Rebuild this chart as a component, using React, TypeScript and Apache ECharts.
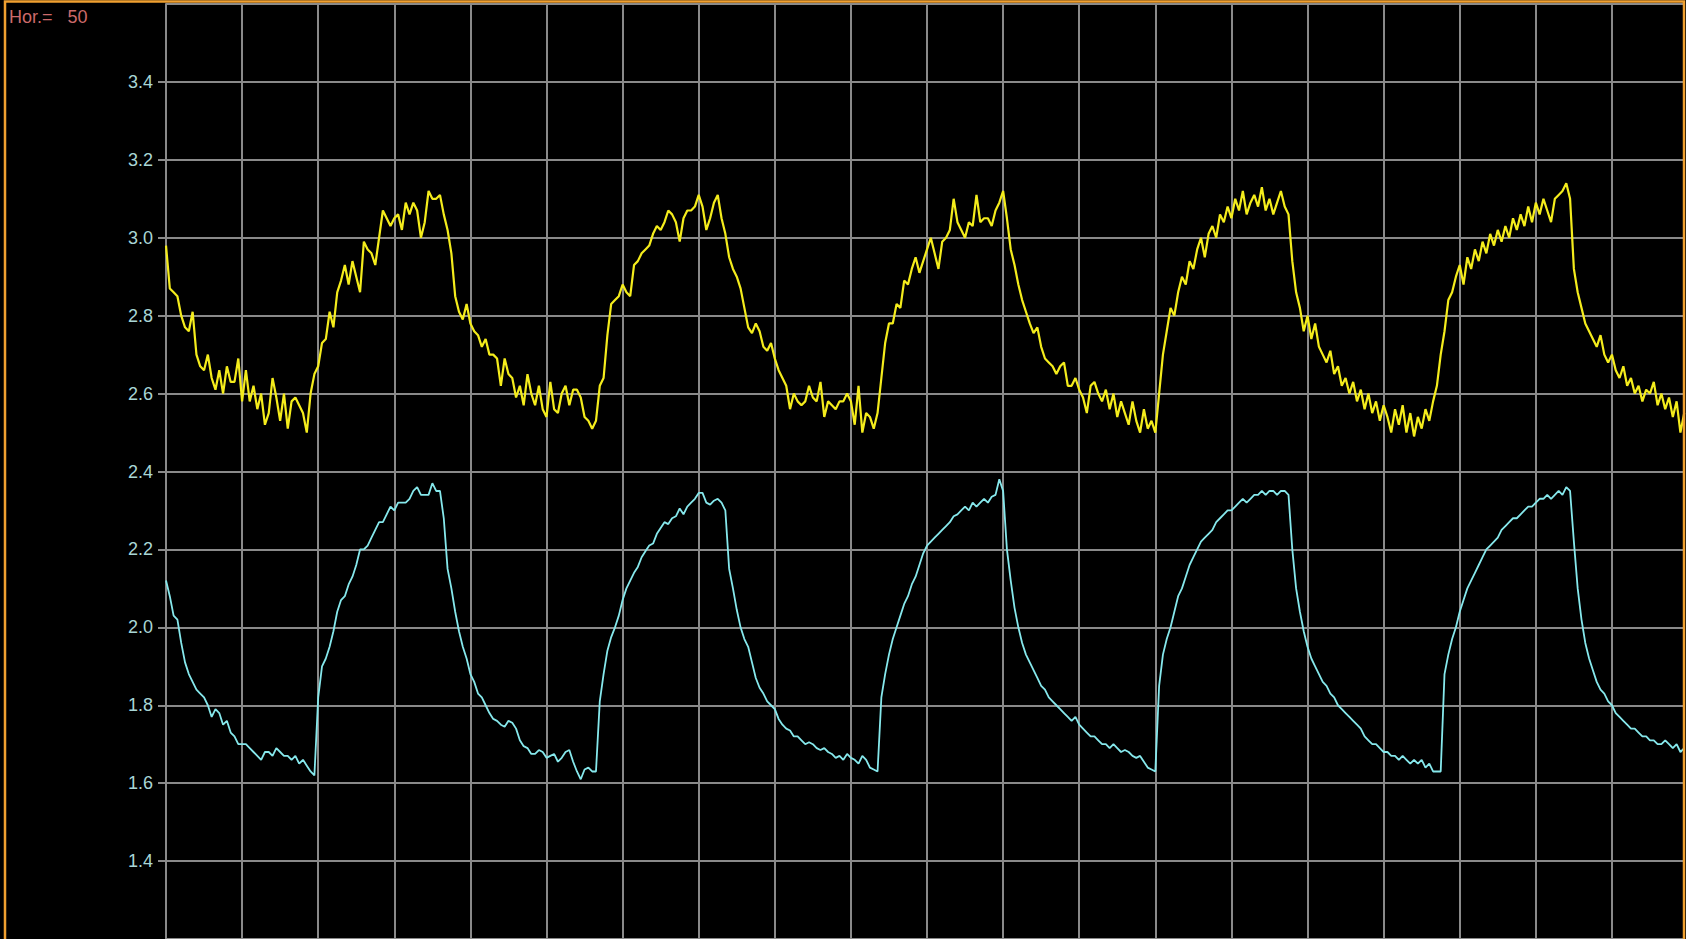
import React, { useEffect, useRef } from "react";
import * as echarts from "echarts";

// sample spacing along the horizontal axis (grid divisions)
const STEP = 0.05;

const yellowTrace: number[] = [
  2.98, 2.87, 2.86, 2.85, 2.80, 2.77, 2.76, 2.81, 2.70, 2.67,
  2.66, 2.70, 2.64, 2.61, 2.66, 2.60, 2.67, 2.63, 2.63, 2.69,
  2.58, 2.66, 2.58, 2.62, 2.56, 2.60, 2.52, 2.55, 2.64, 2.59,
  2.53, 2.60, 2.51, 2.58, 2.59, 2.57, 2.55, 2.50, 2.60, 2.65,
  2.67, 2.73, 2.74, 2.81, 2.77, 2.86, 2.89, 2.93, 2.88, 2.94,
  2.90, 2.86, 2.99, 2.97, 2.96, 2.93, 3.00, 3.07, 3.05, 3.03,
  3.05, 3.06, 3.02, 3.09, 3.06, 3.09, 3.07, 3.00, 3.04, 3.12,
  3.10, 3.10, 3.11, 3.06, 3.02, 2.96, 2.85, 2.81, 2.79, 2.83,
  2.78, 2.76, 2.75, 2.72, 2.74, 2.70, 2.70, 2.69, 2.62, 2.69,
  2.65, 2.64, 2.59, 2.62, 2.57, 2.65, 2.60, 2.57, 2.62, 2.56,
  2.54, 2.63, 2.56, 2.55, 2.60, 2.62, 2.57, 2.61, 2.61, 2.59,
  2.54, 2.53, 2.51, 2.53, 2.62, 2.64, 2.75, 2.83, 2.84, 2.85,
  2.88, 2.86, 2.85, 2.93, 2.94, 2.96, 2.97, 2.98, 3.01, 3.03,
  3.02, 3.04, 3.07, 3.06, 3.04, 2.99, 3.05, 3.07, 3.07, 3.08,
  3.11, 3.08, 3.02, 3.05, 3.09, 3.11, 3.05, 3.01, 2.95, 2.92,
  2.90, 2.87, 2.82, 2.77, 2.755, 2.78, 2.76, 2.72, 2.71, 2.73,
  2.69, 2.66, 2.64, 2.62, 2.56, 2.60, 2.58, 2.57, 2.58, 2.62,
  2.59, 2.58, 2.63, 2.54, 2.58, 2.57, 2.56, 2.58, 2.58, 2.60,
  2.58, 2.52, 2.62, 2.50, 2.55, 2.54, 2.51, 2.55, 2.64, 2.73,
  2.78, 2.78, 2.83, 2.82, 2.89, 2.88, 2.92, 2.95, 2.91, 2.94,
  2.97, 3.00, 2.96, 2.92, 2.99, 3.00, 3.02, 3.10, 3.04, 3.02,
  3.00, 3.04, 3.03, 3.11, 3.04, 3.05, 3.05, 3.03, 3.07, 3.09,
  3.12, 3.05, 2.97, 2.93, 2.88, 2.84, 2.81, 2.78, 2.755, 2.77,
  2.72, 2.69, 2.68, 2.67, 2.65, 2.67, 2.68, 2.62, 2.62, 2.64,
  2.61, 2.59, 2.55, 2.62, 2.63, 2.60, 2.58, 2.61, 2.56, 2.60,
  2.54, 2.58, 2.55, 2.52, 2.58, 2.53, 2.50, 2.56, 2.51, 2.53,
  2.50, 2.60, 2.70, 2.76, 2.82, 2.80, 2.86, 2.90, 2.88, 2.94,
  2.92, 2.97, 3.00, 2.95, 3.01, 3.03, 3.00, 3.06, 3.04, 3.08,
  3.05, 3.10, 3.07, 3.12, 3.06, 3.09, 3.11, 3.08, 3.13, 3.07,
  3.10, 3.06, 3.09, 3.12, 3.08, 3.06, 2.94, 2.86, 2.82, 2.76,
  2.80, 2.74, 2.78, 2.72, 2.70, 2.68, 2.71, 2.65, 2.67, 2.62,
  2.64, 2.60, 2.63, 2.58, 2.61, 2.56, 2.60, 2.55, 2.58, 2.53,
  2.57, 2.54, 2.50, 2.56, 2.52, 2.57, 2.50, 2.55, 2.49, 2.54,
  2.51, 2.56, 2.53, 2.58, 2.62, 2.70, 2.76, 2.84, 2.86, 2.90,
  2.93, 2.88, 2.95, 2.92, 2.97, 2.94, 2.99, 2.96, 3.01, 2.98,
  3.02, 2.99, 3.03, 3.00, 3.05, 3.02, 3.06, 3.03, 3.08, 3.04,
  3.09, 3.06, 3.10, 3.07, 3.04, 3.10, 3.11, 3.12, 3.14, 3.10,
  2.92, 2.86, 2.82, 2.78, 2.76, 2.74, 2.72, 2.75, 2.70, 2.68,
  2.70, 2.66, 2.64, 2.67, 2.62, 2.64, 2.60, 2.62, 2.58, 2.61,
  2.60, 2.63, 2.57, 2.60, 2.56, 2.59, 2.54, 2.58, 2.50, 2.55,
];

const cyanTrace: number[] = [
  2.12, 2.08, 2.03, 2.02, 1.96, 1.91, 1.88, 1.86, 1.84, 1.83,
  1.82, 1.80, 1.77, 1.79, 1.78, 1.75, 1.76, 1.73, 1.72, 1.70,
  1.70, 1.70, 1.69, 1.68, 1.67, 1.66, 1.68, 1.68, 1.67, 1.69,
  1.68, 1.67, 1.67, 1.66, 1.67, 1.65, 1.66, 1.645, 1.63, 1.62,
  1.82, 1.90, 1.92, 1.95, 1.99, 2.04, 2.07, 2.08, 2.11, 2.13,
  2.16, 2.20, 2.20, 2.21, 2.23, 2.25, 2.27, 2.27, 2.29, 2.31,
  2.30, 2.32, 2.32, 2.32, 2.33, 2.35, 2.36, 2.34, 2.34, 2.34,
  2.37, 2.35, 2.35, 2.28, 2.15, 2.10, 2.04, 1.99, 1.95, 1.92,
  1.88, 1.86, 1.83, 1.82, 1.80, 1.78, 1.765, 1.76, 1.75, 1.745,
  1.76, 1.755, 1.74, 1.71, 1.695, 1.69, 1.675, 1.675, 1.685, 1.68,
  1.665, 1.67, 1.675, 1.655, 1.665, 1.68, 1.685, 1.655, 1.63, 1.61,
  1.635, 1.64, 1.63, 1.63, 1.81, 1.88, 1.94, 1.975, 2.00, 2.03,
  2.07, 2.10, 2.12, 2.14, 2.155, 2.18, 2.195, 2.21, 2.215, 2.24,
  2.255, 2.27, 2.265, 2.28, 2.285, 2.305, 2.29, 2.31, 2.32, 2.33,
  2.345, 2.345, 2.32, 2.315, 2.325, 2.33, 2.32, 2.30, 2.15, 2.10,
  2.045, 2.00, 1.97, 1.95, 1.91, 1.87, 1.845, 1.83, 1.81, 1.80,
  1.79, 1.765, 1.75, 1.74, 1.735, 1.72, 1.72, 1.71, 1.70, 1.705,
  1.70, 1.69, 1.685, 1.69, 1.68, 1.675, 1.665, 1.67, 1.66, 1.675,
  1.665, 1.66, 1.65, 1.67, 1.66, 1.64, 1.635, 1.63, 1.82, 1.88,
  1.93, 1.97, 2.00, 2.03, 2.06, 2.08, 2.11, 2.13, 2.16, 2.19,
  2.21, 2.22, 2.23, 2.24, 2.25, 2.26, 2.27, 2.285, 2.29, 2.30,
  2.31, 2.30, 2.32, 2.31, 2.32, 2.33, 2.32, 2.335, 2.34, 2.38,
  2.35, 2.20, 2.12, 2.05, 2.00, 1.96, 1.93, 1.91, 1.89, 1.87,
  1.85, 1.84, 1.82, 1.81, 1.80, 1.79, 1.78, 1.77, 1.76, 1.77,
  1.75, 1.74, 1.73, 1.72, 1.72, 1.71, 1.70, 1.70, 1.69, 1.70,
  1.69, 1.68, 1.685, 1.68, 1.67, 1.665, 1.67, 1.655, 1.64, 1.635,
  1.63, 1.85, 1.93, 1.97, 2.00, 2.04, 2.08, 2.10, 2.13, 2.16,
  2.18, 2.20, 2.22, 2.23, 2.24, 2.25, 2.27, 2.28, 2.29, 2.30,
  2.30, 2.31, 2.32, 2.33, 2.32, 2.33, 2.34, 2.34, 2.35, 2.34,
  2.35, 2.35, 2.34, 2.35, 2.35, 2.34, 2.20, 2.10, 2.04, 1.99,
  1.95, 1.92, 1.90, 1.88, 1.86, 1.85, 1.83, 1.82, 1.80, 1.79,
  1.78, 1.77, 1.76, 1.75, 1.74, 1.72, 1.71, 1.70, 1.70, 1.69,
  1.68, 1.68, 1.67, 1.67, 1.66, 1.67, 1.66, 1.65, 1.66, 1.65,
  1.66, 1.64, 1.65, 1.63, 1.63, 1.63, 1.88, 1.93, 1.97, 2.00,
  2.04, 2.07, 2.10, 2.12, 2.14, 2.16, 2.18, 2.20, 2.21, 2.22,
  2.23, 2.25, 2.26, 2.27, 2.28, 2.28, 2.29, 2.30, 2.31, 2.31,
  2.32, 2.33, 2.33, 2.34, 2.33, 2.34, 2.35, 2.34, 2.36, 2.35,
  2.22, 2.10, 2.02, 1.96, 1.92, 1.89, 1.86, 1.84, 1.83, 1.81,
  1.80, 1.78, 1.77, 1.76, 1.75, 1.74, 1.74, 1.73, 1.72, 1.72,
  1.71, 1.71, 1.70, 1.70, 1.71, 1.70, 1.69, 1.70, 1.68, 1.69,
];

const yTickMin = 1.2;
const yTickMax = 3.6;
const yTickStep = 0.2;
const xDivisions = 19.947;
const headerText = "Hor.=   50";

export default function App() {
  const ref = useRef<HTMLDivElement>(null);

  useEffect(() => {
    if (!ref.current) return;
    document.body.style.margin = "0";
    document.body.style.background = "#000";
    const chart = echarts.init(ref.current, null, { renderer: "svg" });
    const grid = "#8a8a8a";
    chart.setOption({
      animation: false,
      backgroundColor: "#000000",
      grid: { left: 166, right: 2, top: 4, bottom: -10, containLabel: false },
      xAxis: {
        type: "value",
        min: 0,
        max: xDivisions,
        interval: 1,
        axisLine: { show: false },
        axisTick: { show: false },
        axisLabel: { show: false },
        splitLine: { show: true, lineStyle: { color: grid, width: 2 } },
      },
      yAxis: {
        type: "value",
        min: yTickMin,
        max: yTickMax,
        interval: yTickStep,
        axisLine: { show: true, lineStyle: { color: grid, width: 2 } },
        axisTick: { show: true, length: 8, lineStyle: { color: grid, width: 2 } },
        axisLabel: {
          show: true,
          showMinLabel: false,
          showMaxLabel: false,
          margin: 13,
          color: "#a9d6d6",
          fontFamily: "Liberation Sans, Arial, sans-serif",
          fontSize: 18,
          formatter: (v: number) => v.toFixed(1),
        },
        splitLine: { show: true, lineStyle: { color: grid, width: 2 } },
      },
      graphic: [
        {
          type: "rect",
          shape: { x: 5, y: 1.5, width: 1679, height: 960 },
          style: { fill: "none", stroke: "#f0a030", lineWidth: 2.5 },
          z: 100,
          silent: true,
        },
        {
          type: "text",
          left: 9,
          top: 8,
          style: {
            text: headerText,
            fill: "#cc6a6a",
            font: "18px 'Liberation Sans', Arial, sans-serif",
          },
          z: 100,
        },
      ],
      series: [
        {
          type: "line",
          data: yellowTrace.map((v, i) => [i * STEP, v]),
          showSymbol: false,
          symbol: "none",
          lineStyle: { color: "#f4ec1c", width: 2.2 },
          z: 5,
        },
        {
          type: "line",
          data: cyanTrace.map((v, i) => [i * STEP, v]),
          showSymbol: false,
          symbol: "none",
          lineStyle: { color: "#86e8ec", width: 1.8 },
          z: 5,
        },
      ],
    });
    return () => chart.dispose();
  }, []);

  return (
    <div
      ref={ref}
      style={{ position: "fixed", left: 0, top: 0, width: "100vw", height: "100vh" }}
    />
  );
}
